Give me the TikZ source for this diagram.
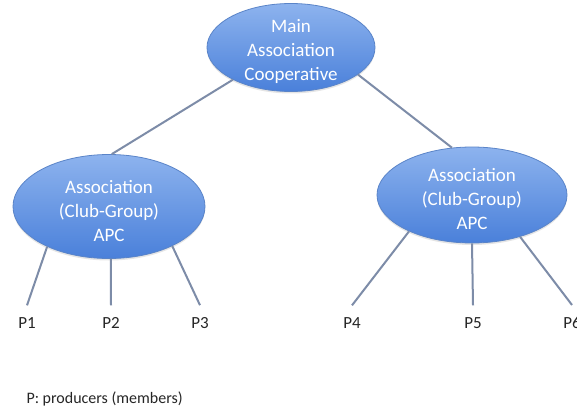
\documentclass[tikz,border=0pt]{standalone}
\usepackage{fontspec}
\setmainfont{Carlito}
\usepackage{tikz}
\usetikzlibrary{shapes,shadows}
\definecolor{elltop}{HTML}{8DB3EE}
\definecolor{ellbot}{HTML}{4A80DA}
\definecolor{elledge}{HTML}{5A84C8}
\definecolor{linkgray}{HTML}{7D8CA8}
\newcommand{\topgap}{\rule{0pt}{22pt}}
\tikzstyle{assoc}=[ellipse, draw=elledge, line width=0.8pt, top color=elltop, bottom color=ellbot, text=white, align=center, inner xsep=0pt, inner ysep=-10pt, font=\fontsize{19}{24}\selectfont, drop shadow={opacity=0.2, shadow xshift=0pt, shadow yshift=-2pt}]
\tikzstyle{link}=[draw=linkgray, line width=2pt]
\tikzstyle{prod}=[font=\fontsize{17}{20}\selectfont, text=black!85, inner xsep=2pt, inner ysep=12pt]

\begin{document}
\begin{tikzpicture}[x=1pt, y=-1pt]
\clip (0,0) rectangle (577,409);
\fill [white] (0,0) rectangle (577,409);

\coordinate (m) at (291, 47.5);
\coordinate (l) at (109, 206.5);
\coordinate (r) at (472, 195);

\node (p1) at (27, 323) [prod] {P1};
\node (p2) at (111, 323) [prod] {P2};
\node (p3) at (200, 323) [prod] {P3};
\node (p4) at (352, 323) [prod] {P4};
\node (p5) at (473, 323) [prod] {P5};
\node (p6) at (572, 323) [prod] {P6};

\node (main) at (m) [assoc, minimum width=168pt, minimum height=88pt] {\topgap Main\\Association\\Cooperative};
\node (left) at (l) [assoc, minimum width=192pt, minimum height=104pt] {\topgap Association\\(Club-Group)\\APC};
\node (right) at (r) [assoc, minimum width=190pt, minimum height=96pt] {\topgap Association\\(Club-Group)\\APC};

\draw [link] (main.-151) -- (left.87);
\draw [link] (main.-22) -- (right.113);

\draw [link] (left.-147) -- (p1.north);
\draw [link] (left.-88) -- (p2.north);
\draw [link] (left.-32) -- (p3.north);
\draw [link] (right.-150) -- (p4.north);
\draw [link] (right.-90) -- (p5.north);
\draw [link] (right.-41) -- (p6.north);

\node (key) at (23, 403) [anchor=base west, font=\fontsize{16}{19}\selectfont, text=black!85] {P: producers (members)};

\end{tikzpicture}
\end{document}
